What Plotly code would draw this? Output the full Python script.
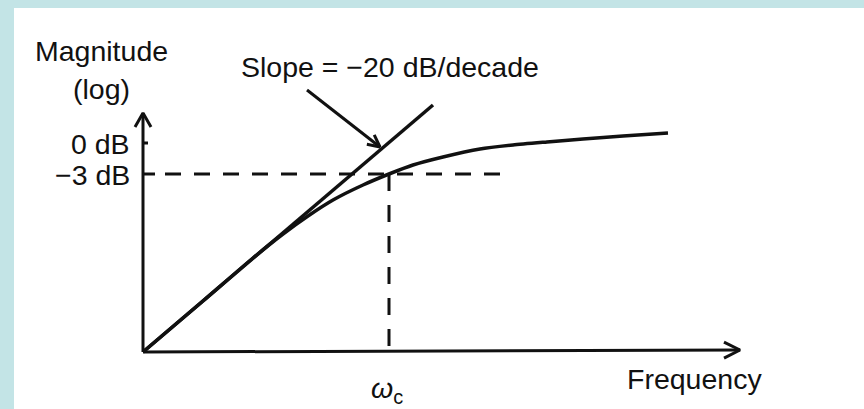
import math
import plotly.graph_objects as go

# ---- data (schematic units: 1 unit ~ 1 px, origin at axes corner) ----
curve_x = [0, 60, 110, 140, 165, 190, 220, 246, 270, 300, 337, 370, 404, 440, 480, 525]
curve_y = [0, 51, 94, 118, 136, 152, 167, 178, 187, 195, 203, 207, 210, 213, 216, 219]

asym_x = [0, 290]
asym_y = [0, 247]

cutoff_x = 246          # omega_c
level_0db = 209         # 0 dB level
level_3db = 178         # -3 dB level
hdash_end = 365

yaxis_top = 239
xaxis_end = 597

pointer_from = (164, 262)
pointer_to = (237, 205)

tick_labels = ["0 dB", "\u22123 dB"]
tick_values = [level_0db, level_3db]
tick_lengths = [5, 12]

FONT = "Liberation Sans, Arial, sans-serif"
INK = "#111111"

fig = go.Figure()

def line(xs, ys, width=3, dash=None, color=INK):
    fig.add_trace(go.Scatter(x=xs, y=ys, mode="lines",
                             line=dict(color=color, width=width, dash=dash),
                             hoverinfo="skip", showlegend=False))

def head(x0, y0, x1, y1, length=14, half=8, width=3):
    dx, dy = x1 - x0, y1 - y0
    n = math.hypot(dx, dy)
    ux, uy = dx / n, dy / n
    px, py = -uy, ux
    bx, by = x1 - ux * length, y1 - uy * length
    line([bx + px * half, x1, bx - px * half],
         [by + py * half, y1, by - py * half], width=width)

# axes
line([0, 0], [0, yaxis_top], width=3)
head(0, 0, 0, yaxis_top, length=14, half=8)
line([0, xaxis_end], [0, 2], width=3)
head(0, 0, xaxis_end, 2, length=16, half=8)

# ticks on y axis
for v, L in zip(tick_values, tick_lengths):
    line([0, L], [v, v], width=3)

# dashed guides
line([22, hdash_end], [level_3db, level_3db], width=3, dash="16px,13px")
line([cutoff_x, cutoff_x], [level_3db, 0], width=3, dash="17px,14px")

# asymptote and response curve
line(asym_x, asym_y, width=3.5)
fig.add_trace(go.Scatter(x=curve_x, y=curve_y, mode="lines",
                         line=dict(color=INK, width=3.5, shape="spline", smoothing=0.6),
                         hoverinfo="skip", showlegend=False))

# pointer arrow
line([pointer_from[0], pointer_to[0]], [pointer_from[1], pointer_to[1]], width=3)
head(*pointer_from, *pointer_to, length=12, half=6)

def text(t, x, y, xanchor="center", size=28.5):
    fig.add_annotation(x=x, y=y, text=t, showarrow=False, xanchor=xanchor,
                       yanchor="middle", font=dict(family=FONT, size=size, color=INK))

text("Magnitude", -42, 301)
text("(log)", -42, 263)
for lab, v in zip(tick_labels, tick_values):
    text(lab, -11, v - 1, xanchor="right")
text("Slope = \u221220 dB/decade", 247, 285)
text("Frequency", 551, -27)
text("<i>\u03c9</i><sub>c</sub>", 244, -38)

# light blue frame (top and left bands)
BLUE = "#c3e4e6"
fig.add_shape(type="rect", xref="paper", yref="paper", x0=0, x1=1,
              y0=1 - 8 / 409, y1=1, fillcolor=BLUE, line_width=0, layer="below")
fig.add_shape(type="rect", xref="paper", yref="paper", x0=0, x1=14 / 864,
              y0=0, y1=1, fillcolor=BLUE, line_width=0, layer="below")

fig.update_layout(
    width=864, height=409,
    margin=dict(l=0, r=0, t=0, b=0),
    paper_bgcolor="white", plot_bgcolor="rgba(0,0,0,0)",
    xaxis=dict(range=[-143, 721], visible=False, fixedrange=True),
    yaxis=dict(range=[-57, 352], visible=False, fixedrange=True),
)

fig.write_html(
    "out.html",
    config={"displayModeBar": False},
    post_script=(
        "document.documentElement.style.margin='0';"
        "document.documentElement.style.overflow='hidden';"
        "document.body.style.margin='0';"
        "document.body.style.overflow='hidden';"
        "document.body.style.background='white';"
    ),
)
